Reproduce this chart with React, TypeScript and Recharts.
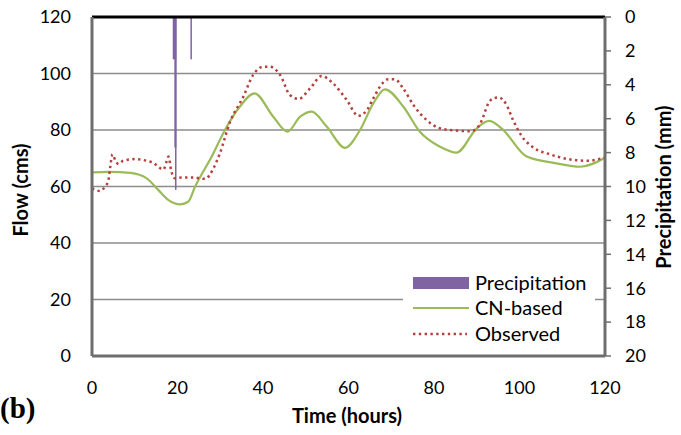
import React from 'react'
import {
    ComposedChart,
    Line,
    Bar,
    XAxis,
    YAxis,
    CartesianGrid,
    ReferenceLine,
} from 'recharts'

// axis ticks
const timeTicks = [0, 20, 40, 60, 80, 100, 120]
const flowTicks = [0, 20, 40, 60, 80, 100, 120]
const precipTicks = [0, 2, 4, 6, 8, 10, 12, 14, 16, 18, 20]

// precipitation (mm), hanging from the top
const precipTime = [19.3, 19.5, 19.6, 23.2]
const precipDepth = [2.5, 7.7, 10.2, 2.5]

// CN-based simulated flow (cms)
const cnTime = [
    0, 4, 9, 12.8, 15.5, 17.9, 20.6, 22.5, 24.1, 28, 31.1, 34.6, 38, 42.4, 45.7,
    48.7, 51.4, 54.9, 59.2, 62.7, 65.8, 68.5, 72.8, 76.7, 81.4, 85.3, 90, 92.9,
    95.8, 101.7, 108.7, 114.2, 120,
]
const cnFlow = [
    65, 65.2, 64.8, 62.9, 58.8, 55.2, 53.7, 54.6, 59.9, 70.6, 80, 88.3, 93, 84.7,
    79.4, 84.7, 86.5, 81.2, 73.7, 80, 89.4, 94.4, 88.3, 79.4, 74.1, 72, 80.6,
    83.2, 80.6, 70.6, 68.2, 67, 70.2,
]

// observed flow (cms)
const obsTime = [
    0, 1.9, 3, 3.8, 4.2, 4.8, 5.5, 6.2, 7.3, 10.1, 12.8, 14.3, 16.7, 17.5, 17.9,
    18.5, 19.4, 21, 23.7, 26.4, 28.4, 29.9, 32.3, 35.4, 37.7, 40.1, 41.6, 44,
    46.3, 48.3, 51, 53.7, 56.4, 59.6, 62.3, 64.3, 65.8, 68.1, 69.3, 70.9, 72.8,
    75.2, 78.3, 81, 83.7, 88, 89.6, 91.2, 92.7, 93.9, 95.2, 97, 98.5, 100.5,
    103.2, 107.1, 111.4, 115.7, 120,
]
const obsFlow = [
    59.3, 58.4, 59.9, 62, 66.2, 71.4, 69.1, 68, 69.1, 69.7, 69.1, 68.4, 66, 69.1,
    70.6, 65.8, 62.9, 63.2, 63.2, 62.7, 66.4, 71.7, 82.9, 91.8, 99.5, 102.4,
    102.4, 99.5, 92.4, 91, 94.7, 99.1, 96.5, 90.6, 85, 87, 91.2, 96.8, 98, 97.9,
    94.7, 88.8, 83.5, 80.8, 80, 79.6, 80, 83.5, 89.4, 91.2, 91.5, 88.8, 83.5,
    77.9, 73.8, 71.4, 69.7, 69.1, 70.2,
]

const GREEN = '#9bbb59'
const RED = '#b5403d'
const PURPLE = '#8064a2'
const AXIS = '#6e6e6e'
const GRID = '#8c8c8c'
const FONT = 'Lato, "Open Sans", sans-serif'
const DOTS = '2.4 3.4'

// drawn width of each precipitation bar, px
const precipBarWidth = [3.5, 2, 1.5, 1.5]

type Row = { t: number; cn?: number; obs?: number; p?: number }

const buildRows = (): Row[] => {
    const map = new Map<number, Row>()
    const get = (t: number) => {
        let r = map.get(t)
        if (!r) {
            r = { t }
            map.set(t, r)
        }
        return r
    }
    cnTime.forEach((t, i) => { get(t).cn = cnFlow[i] })
    obsTime.forEach((t, i) => { get(t).obs = obsFlow[i] })
    precipTime.forEach((t, i) => { get(t).p = precipDepth[i] })
    return [...map.values()].sort((a, b) => a.t - b.t)
}

const rows = buildRows()

const PrecipBar = (props: any) => {
    const { x, y, width, height, payload } = props
    if (payload == null || payload.p == null) return <g />
    const i = precipTime.indexOf(payload.t)
    const w = precipBarWidth[i] ?? 2
    const cx = x + width / 2
    const top = Math.min(y, y + height)
    const h = Math.abs(height)
    return <rect x={cx - w / 2} y={top} width={w} height={h} fill={PURPLE} />
}

const tickStyle = { fontFamily: FONT, fontSize: 18, fill: '#000' }

export default function App() {
    return (
        <div
            style={{
                position: 'absolute',
                left: 0,
                top: 0,
                width: 681,
                height: 435,
                background: '#fff',
                fontFamily: FONT,
            }}
        >
            <ComposedChart
                width={681}
                height={435}
                data={rows}
                margin={{ top: 17, right: 0, bottom: 0, left: 0 }}
            >
                <CartesianGrid
                    yAxisId="flow"
                    vertical={false}
                    stroke={GRID}
                    strokeWidth={1.5}
                />
                <XAxis
                    dataKey="t"
                    type="number"
                    domain={[0, 120]}
                    ticks={timeTicks}
                    tickLine={false}
                    tickSize={0}
                    tickMargin={25}
                    axisLine={{ stroke: AXIS, strokeWidth: 3 }}
                    tick={tickStyle}
                    height={79}
                    allowDataOverflow
                />
                <YAxis
                    yAxisId="flow"
                    domain={[0, 120]}
                    ticks={flowTicks}
                    tickLine={false}
                    tickSize={0}
                    tickMargin={21}
                    axisLine={{ stroke: AXIS, strokeWidth: 3 }}
                    tick={tickStyle}
                    width={92}
                />
                <YAxis
                    yAxisId="precip"
                    orientation="right"
                    reversed
                    domain={[0, 20]}
                    ticks={precipTicks}
                    tickSize={6}
                    tickMargin={14}
                    tickLine={{ stroke: AXIS, strokeWidth: 1.5 }}
                    axisLine={{ stroke: AXIS, strokeWidth: 3 }}
                    tick={{ ...tickStyle, textAnchor: 'start' }}
                    width={76}
                />
                <ReferenceLine yAxisId="flow" y={120} stroke="#000" strokeWidth={3} />
                <Bar
                    yAxisId="precip"
                    dataKey="p"
                    barSize={4}
                    shape={PrecipBar}
                    isAnimationActive={false}
                />
                <Line
                    yAxisId="flow"
                    dataKey="cn"
                    type="monotone"
                    stroke={GREEN}
                    strokeWidth={2.2}
                    dot={false}
                    activeDot={false}
                    connectNulls
                    isAnimationActive={false}
                />
                <Line
                    yAxisId="flow"
                    dataKey="obs"
                    type="monotone"
                    stroke={RED}
                    strokeWidth={2.5}
                    strokeDasharray={DOTS}
                    dot={false}
                    activeDot={false}
                    connectNulls
                    isAnimationActive={false}
                />
            </ComposedChart>

            {/* legend */}
            <div
                style={{
                    position: 'absolute',
                    left: 403,
                    top: 266,
                    width: 192,
                    height: 80,
                    background: '#fff',
                }}
            >
                <svg width={192} height={80}>
                    <rect x={10} y={11} width={56} height={12} fill={PURPLE} />
                    <line x1={10} x2={66} y1={42} y2={42} stroke={GREEN} strokeWidth={2} />
                    <line
                        x1={10}
                        x2={64}
                        y1={68}
                        y2={68}
                        stroke={RED}
                        strokeWidth={2.5}
                        strokeDasharray={DOTS}
                    />
                    <g fontFamily={FONT} fontSize={20} fill="#000">
                        <text x={72} y={24}>Precipitation</text>
                        <text x={72} y={49}>CN-based</text>
                        <text x={72} y={75}>Observed</text>
                    </g>
                </svg>
            </div>

            {/* axis titles */}
            <svg
                width={681}
                height={435}
                style={{ position: 'absolute', left: 0, top: 0, pointerEvents: 'none' }}
            >
                <g fontFamily={FONT} fontWeight={700} fontSize={20} fill="#000">
                    <text x={28} y={190} textAnchor="middle" transform="rotate(-90 28 190)">
                        Flow (cms)
                    </text>
                    <text x={671} y={187} textAnchor="middle" transform="rotate(-90 671 187)">
                        Precipitation (mm)
                    </text>
                    <text x={347} y={423} textAnchor="middle">
                        Time (hours)
                    </text>
                </g>
                <text
                    x={0}
                    y={418}
                    fontFamily='"Liberation Serif", serif'
                    fontWeight={700}
                    fontSize={29}
                    fill="#000"
                >
                    (b)
                </text>
            </svg>
        </div>
    )
}
